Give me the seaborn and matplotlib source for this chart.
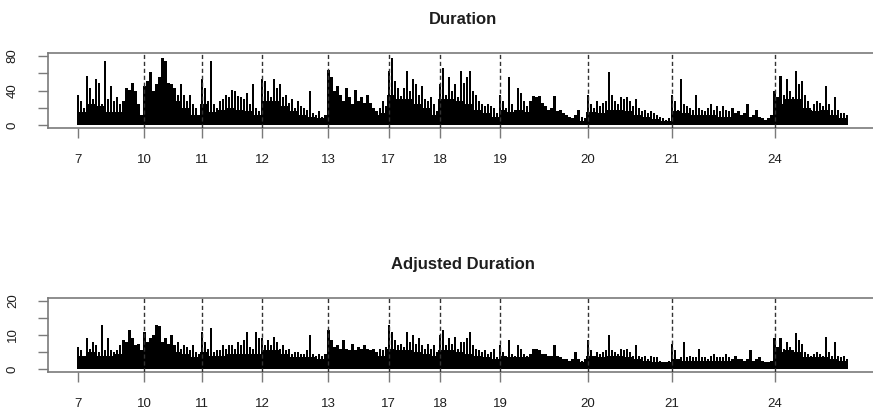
import numpy as np
import pandas as pd
import seaborn as sns
import matplotlib
matplotlib.use("Agg")
import matplotlib.pyplot as plt

sns.set_style("ticks")
plt.rcParams["font.family"] = ["Liberation Sans", "DejaVu Sans"]

# ---- data -------------------------------------------------------------
days = [7, 10, 11, 12, 13, 17, 18, 19, 20, 21, 24]

# individual observations (spike heights), one list per trading day
duration_by_day = [
    [35, 28, 20, 57, 43, 30, 53, 49, 25, 74, 30, 45, 28, 32, 24, 28, 43, 41, 49, 39, 24, 12],
    [45, 51, 61, 40, 47, 55, 78, 74, 49, 47, 43, 35, 47, 35, 28, 35, 24, 20, 12],
    [53, 43, 28, 74, 24, 20, 28, 30, 35, 32, 41, 39, 34, 32, 30, 37, 24, 47, 20, 16],
    [53, 51, 39, 32, 53, 43, 47, 32, 35, 26, 30, 20, 28, 22, 20, 18, 39, 14, 12, 16, 10, 12],
    [64, 55, 39, 45, 35, 28, 43, 32, 24, 41, 28, 32, 26, 35, 26, 20, 16, 20, 28, 22],
    [63, 78, 51, 43, 34, 43, 63, 39, 53, 47, 35, 45, 30, 28, 32, 24, 16],
    [47, 66, 35, 55, 39, 47, 32, 63, 49, 55, 63, 39, 35, 28, 24, 22, 24, 22, 20, 14],
    [35, 28, 20, 55, 24, 18, 43, 37, 28, 22, 28, 34, 32, 34, 26, 22, 18, 20, 34, 16,
     18, 14, 12, 10, 8, 12, 18, 10, 8],
    [35, 24, 20, 28, 22, 26, 28, 61, 35, 28, 24, 32, 30, 32, 28, 22, 30, 20, 16, 18,
     14, 16, 14, 12, 10, 8, 6, 8],
    [35, 28, 18, 53, 24, 22, 20, 18, 35, 20, 18, 16, 20, 24, 18, 22, 16, 22, 18, 16,
     20, 14, 16, 12, 14, 24, 10, 12, 18, 10, 8, 6, 8, 12],
    [39, 32, 57, 35, 53, 39, 32, 63, 47, 51, 35, 28, 18, 24, 28, 26, 22, 45, 24, 18,
     32, 18, 14, 14, 12],
]

# dense black "floor" of each day, read coarsely
duration_floor_by_day = [
    [15, 25, 22, 15, 15, 18, 10],
    [35, 40, 35, 28, 20, 12],
    [25, 15, 18, 20, 18, 16, 12],
    [28, 28, 22, 16, 12, 10, 8],
    [35, 25, 20, 20, 18, 12, 14],
    [35, 30, 30, 25, 20, 12],
    [30, 30, 28, 25, 18, 14, 10],
    [18, 15, 18, 15, 16, 12, 10, 8, 6, 5],
    [15, 14, 18, 18, 16, 12, 10, 7, 5],
    [16, 14, 12, 12, 12, 10, 10, 9, 8, 7, 5],
    [25, 30, 30, 20, 16, 18, 12, 8],
]

adjusted_by_day = [
    [6.5, 5.5, 3, 9, 6, 8, 7, 5, 13, 5.5, 9, 5.5, 5, 5.5, 7, 8.5, 8, 11.5, 9, 7, 7.5, 5.5],
    [11, 8, 9, 10, 13, 12.5, 8, 9, 7.5, 10, 7, 8, 6, 7, 6.5, 5.5, 7, 5, 4.5],
    [11, 8, 6, 12, 5, 5.5, 5.5, 7, 6, 7, 7, 6, 8, 7, 8.5, 11, 6.5, 6, 11, 9],
    [9, 7, 8.5, 7, 9.5, 8, 6, 7, 5.5, 6, 4.5, 5, 5, 4.5, 4.5, 5.5, 10, 4.5, 4, 4.5, 4, 4.5],
    [11.5, 8.5, 6.5, 7, 6, 8.5, 6, 5.5, 7.5, 5.5, 6.5, 6, 7, 6, 5.5, 6, 5, 6, 5.5, 6.5],
    [13, 11, 8.5, 7, 7.5, 6.5, 11, 8, 10, 7.5, 9, 7, 6, 7.5, 6, 7, 5],
    [10, 11.5, 7, 9, 7.5, 9.5, 6, 8, 8, 9, 11, 7, 6, 5.5, 5, 5.5, 4.5, 5, 6, 3.5],
    [7, 5, 4, 8.5, 4.5, 4, 7, 6, 4.5, 4, 4.5, 6, 6, 5.5, 4.5, 4.5, 4, 4, 7, 4,
     3.5, 3, 3, 2.5, 3, 5, 3, 2.5, 3],
    [8.5, 5.5, 4, 5, 4.5, 5, 5.5, 10, 5.5, 5, 4.5, 6, 5.5, 6, 5, 4, 7, 4, 3.5, 4,
     3, 4, 3.5, 3.5, 2.5, 2, 2, 2.5],
    [7.5, 5.5, 3, 3.5, 8, 3.5, 4, 3.5, 3.5, 6, 3.5, 3.5, 3, 4, 4.5, 3.5, 3.5, 3.5, 4.5, 3.5,
     3, 4, 3, 3, 2.5, 3, 5.5, 2.5, 3, 3.5, 2.5, 2, 2, 2.5],
    [9, 6.5, 9, 6, 8, 6.5, 5.5, 10.5, 8.5, 7.5, 5, 4.5, 4, 4.5, 5, 4.5, 4, 9.5, 5, 4,
     8, 4, 3.5, 4, 3],
]

adjusted_floor_by_day = [
    [4, 5, 4, 4, 4.5, 5, 4],
    [6, 7, 6, 5, 4.5, 3.5],
    [5, 4, 4, 4.5, 4.5, 4.5, 4.5],
    [5.5, 5.5, 4.5, 3.5, 3.5, 3.5, 3],
    [5.5, 4.5, 4, 4.5, 4, 4, 4],
    [6, 5.5, 5.5, 5, 4.5, 4],
    [5.5, 5.5, 5, 4.5, 4, 3.5, 3],
    [4, 3.5, 3.5, 3.5, 3, 3, 3, 2.5, 2, 2],
    [4, 3.5, 4, 4, 3.5, 3, 2.5, 2, 2],
    [3, 2.5, 2.5, 2.5, 2.5, 2.5, 2.5, 2, 2, 2, 1.8],
    [5, 5.5, 5, 3.5, 3.5, 3.5, 3, 2.5],
]

titles = ["Duration", "Adjusted Duration"]
ylims = [(-3.2, 83.2), (-0.8, 20.8)]
yticks = [[0, 20, 40, 60, 80], [0, 5, 10, 15, 20]]
ytick_labels = [["0", "", "40", "", "80"], ["0", "", "10", "", "20"]]

# ---- build -------------------------------------------------------------
counts = [len(d) for d in duration_by_day]
starts = np.concatenate([[0], np.cumsum(counts)[:-1]])
ends = np.cumsum(counts)

W, H = 873, 409
fig = plt.figure(figsize=(W / 100, H / 100), dpi=100)

# axes boxes in pixels: (left, top, right, bottom)
boxes = [(48, 53, 878, 128), (48, 298, 878, 372)]

grey = "#7a7a7a"
txt = "#1e1e1e"

panels = [(duration_by_day, duration_floor_by_day),
          (adjusted_by_day, adjusted_floor_by_day)]

for k, ((series, floors), box) in enumerate(zip(panels, boxes)):
    vals = np.concatenate([np.asarray(v, dtype=float) for v in series])
    df = pd.DataFrame({"obs": np.arange(len(vals)), "value": vals})

    l, t, r, b = box
    ax = fig.add_axes([l / W, 1 - b / H, (r - l) / W, (b - t) / H])

    # floor blocks: each day's span split evenly among its floor readings
    for s, e, fl in zip(starts, ends, floors):
        n = len(fl)
        lo, hi = s - 0.5, e - 0.5
        step = (hi - lo) / n
        centers = lo + step * (np.arange(n) + 0.5)
        fdf = pd.DataFrame({"c": centers, "v": np.asarray(fl, dtype=float)})
        sns.histplot(data=fdf, x="c", weights="v", bins=n, binrange=(lo, hi),
                     color="black", alpha=1, linewidth=0, ax=ax)

    sns.barplot(data=df, x="obs", y="value", native_scale=True, width=0.75,
                color="black", saturation=1, linewidth=0, errorbar=None, ax=ax)
    for s in starts[1:]:
        ax.axvline(s, color="#333333", lw=1.0, ls=(0, (3, 2)), zorder=3)
    ax.set_xlim(-10, 265.3)
    ax.set_ylim(*ylims[k])
    ax.set_xticks(starts)
    ax.set_xticklabels([str(d) for d in days], fontsize=9.5, color=txt)
    ax.set_yticks(yticks[k])
    ax.set_yticklabels(ytick_labels[k], fontsize=9.5, color=txt,
                       rotation=90, va="center")
    ax.tick_params(axis="x", length=7, width=1, color=grey, pad=12)
    ax.tick_params(axis="y", length=7, width=1, color=grey, pad=14)
    ax.set_xlabel("")
    ax.set_ylabel("")
    for sp in ax.spines.values():
        sp.set_visible(True)
        sp.set_color(grey)
        sp.set_linewidth(1.2)
    ax.set_title(titles[k], fontsize=12, fontweight="bold", color=txt, pad=21)

fig.savefig("out.png", dpi=100)
